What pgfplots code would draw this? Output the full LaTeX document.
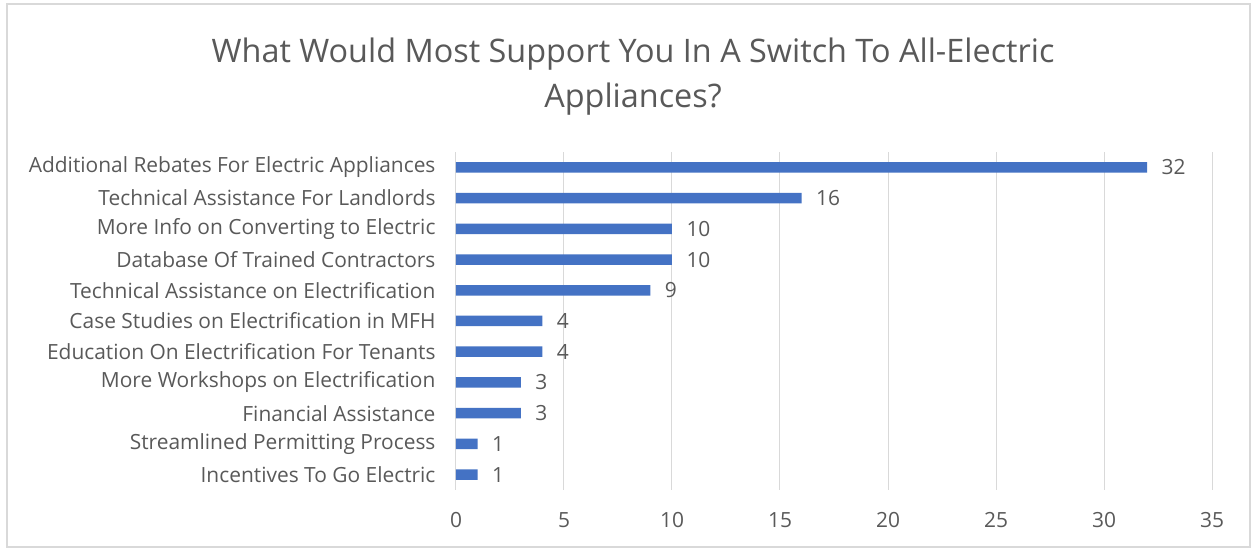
\documentclass[border=0pt]{standalone}
\usepackage{pgfplots}
\pgfplotsset{compat=1.18}
\usepackage{fontspec}
\setmainfont{Open Sans}
\definecolor{barblue}{HTML}{4472C4}
\definecolor{txt}{HTML}{595959}
\definecolor{gridc}{HTML}{D9D9D9}
\begin{document}
\begin{tikzpicture}[x=1bp,y=1bp]
\useasboundingbox (-456,-60) rectangle (797,490);
\fill[white] (-456,-60) rectangle (797,490);
\draw[color=gridc, line width=1.5bp] (-449,-57) rectangle (794,486);
\node[txt, font=\fontsize{32.5}{38}\selectfont] at (177,436) {What Would Most Support You In A Switch To All-Electric};
\node[txt, font=\fontsize{32.5}{38}\selectfont] at (177,391) {Appliances?};
\begin{axis}[
  at={(0,0)}, anchor=south west,
  scale only axis, width=756bp, height=338bp,
  xbar, bar width=10.5bp,
  xmin=0, xmax=35, ymin=-0.5, ymax=10.5,
  xtick={0,5,...,35}, ytick={0,...,10},
  yticklabels={Incentives To Go Electric, Streamlined Permitting Process, Financial Assistance, More Workshops on Electrification, Education On Electrification For Tenants, Case Studies on Electrification in MFH, Technical Assistance on Electrification, Database Of Trained Contractors, More Info on Converting to Electric, Technical Assistance For Landlords, Additional Rebates For Electric Appliances},
  xmajorgrids, major grid style={color=gridc, line width=1bp},
  axis x line=bottom, axis y line=left,
  x axis line style={draw=none},
  y axis line style={-, draw=gridc, line width=1bp},
  major tick length=0pt,
  /pgf/number format/assume math mode=true,
  tick label style={txt, font=\fontsize{21}{25}\selectfont},
  xticklabel style={yshift=-19bp},
  yticklabel style={xshift=-17bp},
  nodes near coords,
  nodes near coords style={txt, font=\fontsize{21}{25}\selectfont, xshift=11bp},
  clip=false,
]
\addplot[fill=barblue, draw=none] table[x=v, y=y] {
v y
1 0
1 1
3 2
3 3
4 4
4 5
9 6
10 7
10 8
16 9
32 10
};
\end{axis}
\end{tikzpicture}
\end{document}
